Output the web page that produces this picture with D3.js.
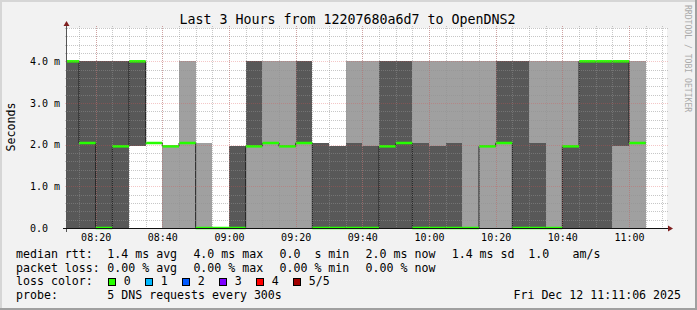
<!DOCTYPE html>
<html>
<head>
<meta charset="utf-8">
<script src="https://cdn.jsdelivr.net/npm/d3@7"></script>
<style>
  html, body { margin: 0; padding: 0; background: #f2f2f2; }
  svg { display: block; font-family: 'DejaVu Sans Mono', monospace; }
  text { white-space: pre; }
</style>
</head>
<body>
<svg id="chart" width="697" height="310"></svg>
<script>
// 5 min bins, sorted pings in ms
const binStarts = ['08:10', '08:15', '08:20', '08:25', '08:30', '08:35', '08:40', '08:45', '08:50', '08:55',
  '09:00', '09:05', '09:10', '09:15', '09:20', '09:25', '09:30', '09:35', '09:40', '09:45',
  '09:50', '09:55', '10:00', '10:05', '10:10', '10:15', '10:20', '10:25', '10:30', '10:35',
  '10:40', '10:45', '10:50', '10:55', '11:00']
const ping1 = [0, 0, 0, 0, 1.96, 2.04, 0, 0, 0, 0, 0, 0, 0, 0, 0, 0, 0, 0, 0, 0, 0, 0, 0, 0, 0, 0, 0, 0, 0, 0, 0, 0, 0, 0, 0]
const ping2 = [0, 0, 0, 0, 1.96, 2.04, 1.96, 2.04, 0, 0, 0, 1.96, 2.04, 1.96, 2.04, 0, 0, 0, 0, 0, 0, 0, 0, 0, 0, 1.96, 2.04, 0, 0, 0, 0, 0, 0, 1.96, 2.04]
const median = [4, 2.04, 0, 1.96, 4, 2.04, 1.96, 2.04, 0, 0, 0, 1.96, 2.04, 1.96, 2.04, 0, 0, 0, 0, 1.96, 2.04, 0, 0, 0, 0, 1.96, 2.04, 0, 0, 0, 1.96, 4, 4, 4, 2.04]
const ping4 = [4, 4, 4, 4, 4, 2.04, 1.96, 2.04, 0, 0, 1.96, 4, 2.04, 1.96, 4, 2.04, 1.96, 2.04, 1.96, 4, 4, 2.04, 1.96, 2.04, 0, 1.96, 4, 4, 2.04, 0, 1.96, 4, 4, 4, 2.04]
const ping5 = [4, 4, 4, 4, 4, 2.04, 1.96, 4, 2.04, 0, 1.96, 4, 4, 4, 4, 2.04, 1.96, 4, 4, 4, 4, 4, 4, 4, 4, 4, 4, 4, 4, 4, 4, 4, 4, 4, 4]

const yTicks = [0, 1, 2, 3, 4]
const lossLabels = ['0', '1', '2', '3', '4', '5/5']
const lossColors = ['#26ff00', '#00b8ff', '#0059ff', '#7e00ff', '#ff0000', '#a10000']
const rttStats = ['1.4 ms avg', '4.0 ms max', '0.0  s min', '2.0 ms now', '1.4 ms sd']
const lossStats = ['0.00 % avg', '0.00 % max', '0.00 % min', '0.00 % now']

const W = 697
const H = 310
const pL = 67
const pR = 667
const pT = 28
const pB = 228

const parse = d3.timeParse('%H:%M')
const parseS = d3.timeParse('%H:%M:%S')
const svg = d3.select('#chart')

// frame ------------------------------
svg.append('rect').attr('width', W).attr('height', H).attr('fill', '#f2f2f2')
svg.append('rect').attr('x', 0).attr('y', 0).attr('width', W).attr('height', 2).attr('fill', '#d6d6d6')
svg.append('rect').attr('x', 0).attr('y', 0).attr('width', 2).attr('height', H).attr('fill', '#d6d6d6')
svg.append('rect').attr('x', 0).attr('y', H - 2).attr('width', W).attr('height', 2).attr('fill', '#a0a0a0')
svg.append('rect').attr('x', W - 2).attr('y', 0).attr('width', 2).attr('height', H).attr('fill', '#a0a0a0')

svg.append('rect')
  .attr('x', pL).attr('y', pT)
  .attr('width', pR - pL).attr('height', pB - pT)
  .attr('fill', '#ffffff')

const x = d3.scaleTime().domain([parseS('08:11:24'), parseS('11:11:24')]).range([pL, pR])
const y = d3.scaleLinear().domain([0, 4.8]).range([pB, pT])

svg.append('clipPath').attr('id', 'plot')
  .append('rect').attr('x', pL).attr('y', pT - 5).attr('width', pR - pL).attr('height', pB - pT + 10)

const bins = binStarts.map((s, i) => {
  const t0 = parse(s)
  return { t0, t1: d3.timeMinute.offset(t0, 5), p1: ping1[i], p2: ping2[i], med: median[i], p4: ping4[i], p5: ping5[i] }
})

const plot = svg.append('g').attr('clip-path', 'url(#plot)')

// smoke: outer pair light, inner pair dark
plot.selectAll('rect.outer')
  .data(bins)
  .join('rect')
  .attr('class', 'outer')
  .attr('x', (d) => x(d.t0))
  .attr('width', (d) => x(d.t1) - x(d.t0))
  .attr('y', (d) => y(d.p5))
  .attr('height', (d) => y(d.p1) - y(d.p5))
  .attr('fill', '#a0a0a0')
  .attr('shape-rendering', 'crispEdges')

plot.selectAll('rect.inner')
  .data(bins)
  .join('rect')
  .attr('class', 'inner')
  .attr('x', (d) => x(d.t0))
  .attr('width', (d) => x(d.t1) - x(d.t0))
  .attr('y', (d) => y(d.p4))
  .attr('height', (d) => y(d.p2) - y(d.p4))
  .attr('fill', '#585858')
  .attr('shape-rendering', 'crispEdges')

// grid ------------------------------
const grid = svg.append('g').attr('stroke-dasharray', '1,1').attr('stroke-width', 1)
const minorX = x.ticks(d3.timeMinute.every(5))
const majorX = x.ticks(d3.timeMinute.every(20))
const minorY = d3.range(0.2, 4.81, 0.2).filter((v) => Math.abs(v - Math.round(v)) > 0.01)
const majorY = yTicks.filter((v) => v > 0)

grid.selectAll('line.mx')
  .data(minorX)
  .join('line')
  .attr('x1', (d) => Math.round(x(d)) + 0.5)
  .attr('x2', (d) => Math.round(x(d)) + 0.5)
  .attr('y1', pT - 2)
  .attr('y2', pB)
  .attr('stroke', 'rgba(143,143,143,0.5)')

grid.selectAll('line.my')
  .data(minorY)
  .join('line')
  .attr('x1', pL - 2)
  .attr('x2', pR + 2)
  .attr('y1', (d) => Math.round(y(d)) + 0.5)
  .attr('y2', (d) => Math.round(y(d)) + 0.5)
  .attr('stroke', 'rgba(143,143,143,0.5)')

grid.selectAll('line.Mx')
  .data(majorX)
  .join('line')
  .attr('x1', (d) => Math.round(x(d)) + 0.5)
  .attr('x2', (d) => Math.round(x(d)) + 0.5)
  .attr('y1', pT - 2)
  .attr('y2', pB + 2)
  .attr('stroke', 'rgba(222,80,80,0.32)')

grid.selectAll('line.My')
  .data(majorY)
  .join('line')
  .attr('x1', pL - 2)
  .attr('x2', pR + 2)
  .attr('y1', (d) => Math.round(y(d)) + 0.5)
  .attr('y2', (d) => Math.round(y(d)) + 0.5)
  .attr('stroke', 'rgba(222,80,80,0.32)')

// median line + loss coloured band
const stepPts = bins.map((d) => [x(d.t0), y(d.med)])
stepPts.push([x(bins[bins.length - 1].t1), y(median[median.length - 1])])
plot.append('path')
  .attr('d', d3.line().curve(d3.curveStepAfter)(stepPts))
  .attr('fill', 'none')
  .attr('stroke', '#202020')
  .attr('stroke-width', 1)

plot.selectAll('rect.med')
  .data(bins)
  .join('rect')
  .attr('class', 'med')
  .attr('x', (d) => x(d.t0))
  .attr('width', (d) => x(d.t1) - x(d.t0))
  .attr('y', (d) => y(d.med) - 1.25)
  .attr('height', 2.5)
  .attr('fill', lossColors[0])

// axes ------------------------------
svg.append('line')
  .attr('x1', pL - 0.5).attr('x2', pL - 0.5)
  .attr('y1', pB + 4).attr('y2', pT - 4)
  .attr('stroke', '#555')
svg.append('line')
  .attr('x1', pL - 4).attr('x2', pR + 2)
  .attr('y1', pB + 0.5).attr('y2', pB + 0.5)
  .attr('stroke', '#111')
svg.append('path')
  .attr('d', `M${pL - 3.5},${pT - 2}L${pL + 2.5},${pT - 2}L${pL - 0.5},${pT - 7}Z`)
  .attr('fill', '#7f1f1f')
svg.append('path')
  .attr('d', `M${pR + 1},${pB - 2.5}L${pR + 1},${pB + 3.5}L${pR + 6},${pB + 0.5}Z`)
  .attr('fill', '#7f1f1f')

svg.append('g')
  .attr('font-size', 10)
  .selectAll('text')
  .data(yTicks)
  .join('text')
  .attr('x', 30)
  .attr('y', (d) => y(d) + 3.5)
  .text((d) => (d === 0 ? '0.0' : d.toFixed(1) + ' m'))

svg.append('g')
  .attr('font-size', 10)
  .attr('text-anchor', 'middle')
  .selectAll('text')
  .data(majorX)
  .join('text')
  .attr('x', (d) => x(d) + 0.5)
  .attr('y', 241)
  .text(d3.timeFormat('%H:%M'))

// titles ------------------------------
svg.append('text')
  .attr('x', 347.5).attr('y', 23.5)
  .attr('text-anchor', 'middle')
  .attr('font-size', 13.3)
  .text('Last 3 Hours from 12207680a6d7 to OpenDNS2')

svg.append('text')
  .attr('transform', 'translate(15,127) rotate(-90)')
  .attr('text-anchor', 'middle')
  .attr('font-size', 11.6)
  .text('Seconds')

svg.append('text')
  .attr('transform', 'translate(685,5) rotate(90)')
  .attr('font-size', 8.1)
  .attr('fill', '#aaaaaa')
  .text('RRDTOOL / TOBI OETIKER')

// legend ------------------------------
const leg = svg.append('g').attr('font-size', 11.6)
const rows = [258, 271.7, 285.3, 299]
leg.append('text').attr('x', 16).attr('y', rows[0]).text('median rtt:')
leg.append('text').attr('x', 16).attr('y', rows[1]).text('packet loss:')
leg.append('text').attr('x', 16).attr('y', rows[2]).text('loss color:')
leg.append('text').attr('x', 16).attr('y', rows[3]).text('probe:')

leg.selectAll('text.rtt')
  .data(rttStats)
  .join('text')
  .attr('class', 'rtt')
  .attr('x', (d, i) => 107.3 + i * 86.1)
  .attr('y', rows[0])
  .text((d) => d)
leg.append('text').attr('x', 528.3).attr('y', rows[0]).text('1.0')
leg.append('text').attr('x', 572.6).attr('y', rows[0]).text('am/s')

leg.selectAll('text.loss')
  .data(lossStats)
  .join('text')
  .attr('class', 'loss')
  .attr('x', (d, i) => 107.3 + i * 86.1)
  .attr('y', rows[1])
  .text((d) => d)

leg.selectAll('rect.lc')
  .data(lossColors)
  .join('rect')
  .attr('class', 'lc')
  .attr('x', (d, i) => 108.5 + i * 37)
  .attr('y', 278.5)
  .attr('width', 7)
  .attr('height', 7)
  .attr('fill', (d) => d)
  .attr('stroke', '#000')
  .attr('stroke-width', 1)

leg.selectAll('text.lcl')
  .data(lossLabels)
  .join('text')
  .attr('class', 'lcl')
  .attr('x', (d, i) => 123.7 + i * 37)
  .attr('y', rows[2])
  .text((d) => d)

leg.append('text').attr('x', 107.3).attr('y', rows[3]).text('5 DNS requests every 300s')
leg.append('text').attr('x', 681).attr('y', rows[3]).attr('text-anchor', 'end').text('Fri Dec 12 11:11:06 2025')
</script>
</body>
</html>
